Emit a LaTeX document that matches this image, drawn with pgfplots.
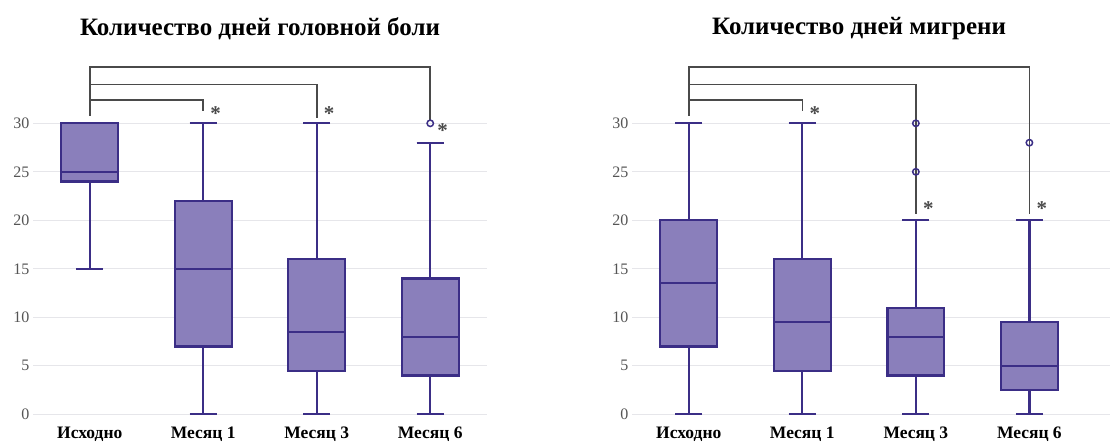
\documentclass[border=0pt]{standalone}
\usepackage{pgfplots}
\pgfplotsset{compat=1.18}
\usepgfplotslibrary{statistics}
\usepackage{fontspec}
\setmainfont{Liberation Serif}
\definecolor{boxfill}{HTML}{8A7FBB}
\definecolor{boxdraw}{HTML}{3B2E86}
\definecolor{brk}{HTML}{4A4A4A}
\definecolor{gridc}{HTML}{E6E6EA}
\definecolor{tickc}{HTML}{555555}
\tikzset{ast/.style={text=brk, font=\fontsize{21}{21}\selectfont\bfseries, anchor=center}}
\pgfplotsset{
  panel/.style={
    scale only axis, height=368.6pt,
    xmin=-0.5, ymin=-1, ymax=37,
    axis line style={draw=none},
    major tick length=0pt,
    ytick={0,5,10,15,20,25,30},
    xtick={0,1,2,3},
    xticklabels={Исходно,Месяц 1,Месяц 3,Месяц 6},
    xticklabel style={font=\fontsize{17.5}{18}\selectfont\bfseries, yshift=1pt, text height=12pt, text depth=3.5pt},
    yticklabel style={font=\fontsize{16}{17}\selectfont, text=tickc},
    /pgf/number format/assume math mode=true,
    ymajorgrids, major grid style={gridc, line width=1.2pt},
    title style={font=\fontsize{25}{27}\selectfont\bfseries, at={(0.5,1)}, anchor=center, yshift=21pt},
    boxplot/draw direction=y,
    boxplot/box extend=0.5,
    boxplot/whisker extend=0.24,
    clip=false,
  },
  bx/.style={draw=boxdraw, fill=boxfill, line width=2.2pt, mark=o, mark size=3.2pt,
    mark options={draw=boxdraw, fill=white, line width=1.5pt, solid}},
  br/.style={brk, line width=1.6pt, mark=none},
}
\begin{document}
\begin{tikzpicture}
\useasboundingbox (0pt,0pt) rectangle (1110pt,445pt);
% Left panel
\begin{axis}[panel, width=454pt, xmax=3.5, at={(33pt,21pt)}, anchor=south west, title={Количество дней головной боли}]
\addplot[br] coordinates {(0,30.8) (0,32.4) (1,32.4) (1,31.3)};
\addplot[br] coordinates {(0,30.8) (0,34.0) (2,34.0) (2,30.5)};
\addplot[br] coordinates {(0,30.8) (0,35.8) (3,35.8) (3,30.3)};
\addplot[bx, boxplot prepared={lower whisker=15, lower quartile=24, median=25, upper quartile=30, upper whisker=30, draw position=0}] coordinates {};
\addplot[bx, boxplot prepared={lower whisker=0, lower quartile=7, median=15, upper quartile=22, upper whisker=30, draw position=1}] coordinates {};
\addplot[bx, boxplot prepared={lower whisker=0, lower quartile=4.5, median=8.5, upper quartile=16, upper whisker=30, draw position=2}] coordinates {};
\addplot[bx, boxplot prepared={lower whisker=0, lower quartile=4, median=8, upper quartile=14, upper whisker=28, draw position=3}] table[row sep=\\, y index=0] {data\\30\\};
\node[ast] at (axis cs:1.11,31.0) {*};
\node[ast] at (axis cs:2.11,31.0) {*};
\node[ast] at (axis cs:3.11,29.2) {*};
\end{axis}
% Right panel
\begin{axis}[panel, width=478pt, xmax=3.71, at={(632pt,21pt)}, anchor=south west, title={Количество дней мигрени},
  title style={at={(0.475,1)}}]
\addplot[br] coordinates {(0,30.8) (0,32.4) (1,32.4) (1,31.3)};
\addplot[br] coordinates {(0,30.8) (0,34.0) (2,34.0) (2,20.6)};
\addplot[br] coordinates {(0,30.8) (0,35.8) (3,35.8) (3,20.6)};
\addplot[bx, boxplot prepared={lower whisker=0, lower quartile=7, median=13.5, upper quartile=20, upper whisker=30, draw position=0}] coordinates {};
\addplot[bx, boxplot prepared={lower whisker=0, lower quartile=4.5, median=9.5, upper quartile=16, upper whisker=30, draw position=1}] coordinates {};
\addplot[bx, boxplot prepared={lower whisker=0, lower quartile=4, median=8, upper quartile=11, upper whisker=20, draw position=2}] table[row sep=\\, y index=0] {data\\25\\30\\};
\addplot[bx, boxplot prepared={lower whisker=0, lower quartile=2.5, median=5, upper quartile=9.5, upper whisker=20, draw position=3}] table[row sep=\\, y index=0] {data\\28\\};
\node[ast] at (axis cs:1.11,31.0) {*};
\node[ast] at (axis cs:2.11,21.2) {*};
\node[ast] at (axis cs:3.11,21.2) {*};
\end{axis}
\end{tikzpicture}
\end{document}
